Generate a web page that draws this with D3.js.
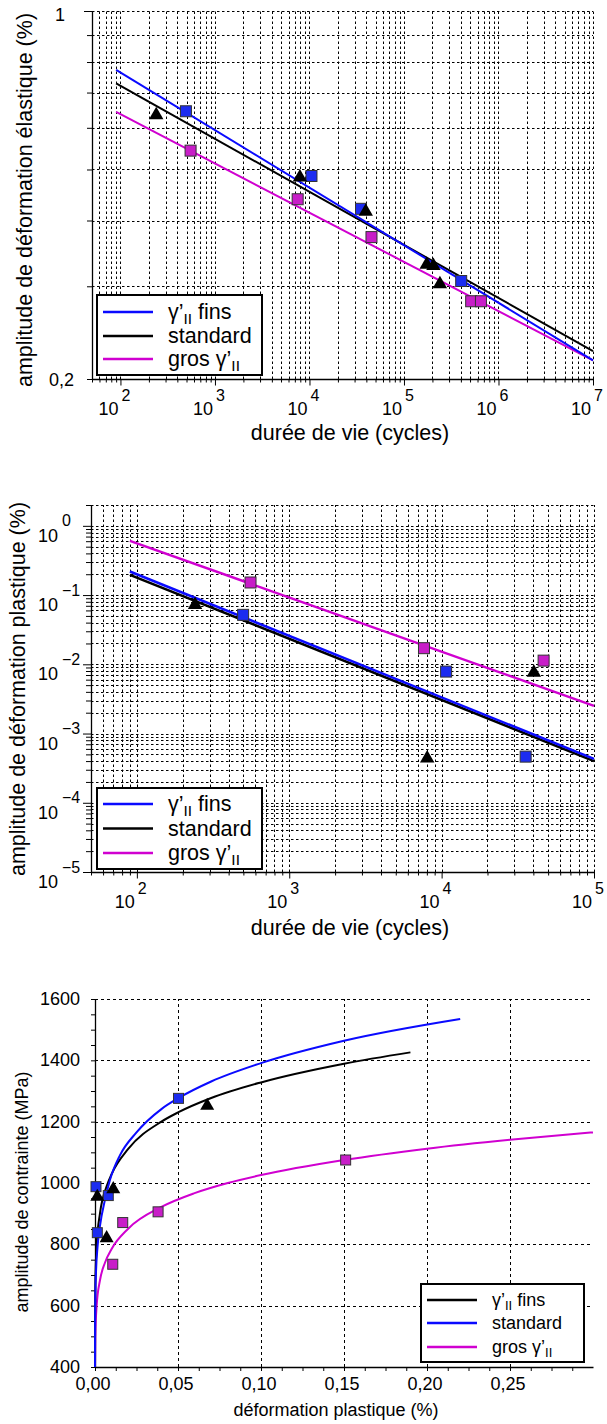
<!DOCTYPE html>
<html><head><meta charset="utf-8">
<script src="https://cdn.jsdelivr.net/npm/d3@7"></script>
<style>
body{margin:0;background:#fff;}
svg{display:block;font-family:"Liberation Sans",Arial,sans-serif;}
</style></head><body>
<svg id="c" width="607" height="1424"></svg>
<script>
// ---------- Chart 1 : elastic strain amplitude vs life ----------
const e1FinsN = [493, 10500, 35100, 403000];
const e1FinsE = [0.645, 0.486, 0.421, 0.307];
const e1StdN  = [239, 7920, 39400, 174000, 205000, 240000];
const e1StdE  = [0.634, 0.483, 0.416, 0.330, 0.328, 0.303];
const e1GrosN = [552, 7500, 45300, 514000, 652000];
const e1GrosE = [0.543, 0.439, 0.372, 0.281, 0.281];
const e1FitN    = [90, 1e7];
const e1FitFins = [0.773, 0.217];
const e1FitStd  = [0.729, 0.226];
const e1FitGros = [0.643, 0.217];
const e1XExp = [2, 3, 4, 5, 6, 7];
const e1YLabels = [[1, "1"], [0.2, "0,2"]];

// ---------- Chart 2 : plastic strain amplitude vs life ----------
const p2FinsN = [498, 10700, 35600];
const p2FinsE = [0.0518, 0.00785, 0.000464];
const p2StdN  = [241, 8040, 40300];
const p2StdE  = [0.0722, 0.00044, 0.0076];
const p2GrosN = [557, 7660, 46700];
const p2GrosE = [0.152, 0.0171, 0.0113];
const p2FitN    = [90, 1e5];
const p2FitFins = [0.219, 0.00043];
const p2FitStd  = [0.196, 0.00040];
const p2FitGros = [0.607, 0.00251];
const p2XExp = [2, 3, 4, 5];
const p2YExp = [0, -1, -2, -3, -4, -5];

// ---------- Chart 3 : cyclic stress-strain ----------
const c3BlueX  = [0.0006, 0.008, 0.0014, 0.0503];
const c3BlueY  = [988, 959, 838, 1276];
const c3BlackX = [0.0014, 0.011, 0.007, 0.0676];
const c3BlackY = [955, 980, 820, 1252];
const c3MagX   = [0.0107, 0.0167, 0.038, 0.151];
const c3MagY   = [735, 871, 906, 1075];
const c3CurveBlueX  = [0.000005, 0.00005, 0.0002, 0.0006, 0.0015, 0.003, 0.006, 0.009, 0.015, 0.025, 0.04, 0.05, 0.07, 0.10, 0.15, 0.22];
const c3CurveBlueY  = [400, 540, 630, 710, 790, 860, 945, 1010, 1090, 1165, 1241, 1276, 1331, 1391, 1464, 1535];
const c3CurveBlackX = [0.000002, 0.00003, 0.0002, 0.001, 0.003, 0.007, 0.01, 0.02, 0.04, 0.05, 0.07, 0.10, 0.15, 0.19];
const c3CurveBlackY = [401, 541, 668, 798, 901, 989, 1029, 1111, 1200, 1230, 1277, 1328, 1389, 1426];
const c3CurveMagX   = [0.00003, 0.0002, 0.001, 0.003, 0.006, 0.01, 0.02, 0.04, 0.06, 0.08, 0.10, 0.15, 0.20, 0.25, 0.30];
const c3CurveMagY   = [400, 499, 601, 683, 740, 785, 851, 922, 967, 1000, 1026, 1075, 1112, 1141, 1165];
const c3XTicks = [0, 0.05, 0.10, 0.15, 0.20, 0.25];
const c3YTicks = [400, 600, 800, 1000, 1200, 1400, 1600];

const BLUE = "#0a0aff", MAG = "#d000d0", BLK = "#000";
const SQ_BLUE = "#1c2cf0", SQ_MAG = "#c81ec8";

const svg = d3.select("#c");

function drawSquares(g, xs, ys, x, y, fill, sz) {
  g.selectAll(null).data(d3.zip(xs, ys)).join("rect")
    .attr("x", d => x(d[0]) - sz/2).attr("y", d => y(d[1]) - sz/2)
    .attr("width", sz).attr("height", sz)
    .attr("fill", fill).attr("stroke", "#333").attr("stroke-width", 1);
}
function drawTris(g, xs, ys, x, y, size) {
  g.selectAll(null).data(d3.zip(xs, ys)).join("path")
    .attr("transform", d => `translate(${x(d[0])},${y(d[1])})`)
    .attr("d", d3.symbol(d3.symbolTriangle, size)())
    .attr("fill", "#000");
}
function drawLine(g, xs, ys, x, y, color, w, curve) {
  const ln = d3.line().x(d => x(d[0])).y(d => y(d[1]));
  if (curve) ln.curve(curve);
  g.append("path").datum(d3.zip(xs, ys)).attr("d", ln)
    .attr("fill", "none").attr("stroke", color).attr("stroke-width", w);
}
function gammaText(t, fs, before, after) {
  if (before) t.append("tspan").text(before);
  t.append("tspan").text("γ’");
  t.append("tspan").attr("dy", fs*0.28).attr("font-size", fs*0.72).text("II");
  t.append("tspan").attr("dy", -fs*0.28).text(after || "");
}
function legend(box, lx, tx, rows, items, fs) {
  const g = svg.append("g");
  g.append("rect").attr("x", box[0]).attr("y", box[1]).attr("width", box[2]-box[0]).attr("height", box[3]-box[1])
    .attr("fill", "#fff").attr("stroke", "#000").attr("stroke-width", 2);
  items.forEach((it, i) => {
    g.append("line").attr("x1", lx[0]).attr("x2", lx[1]).attr("y1", rows[i]).attr("y2", rows[i])
      .attr("stroke", it.color).attr("stroke-width", 2.5);
    const t = g.append("text").attr("x", tx).attr("y", rows[i]).attr("dominant-baseline", "central")
      .attr("font-size", fs).attr("fill", "#000");
    if (it.gamma === "pre") gammaText(t, fs, "", " fins");
    else if (it.gamma === "post") gammaText(t, fs, "gros ", "");
    else t.text(it.label);
  });
}

// ---------------- log-log chart helper ----------------
function logChart(o) {
  const x = d3.scaleLog().domain(o.xd).range(o.xr);
  const y = d3.scaleLog().domain(o.yd).range(o.yr);
  const g = svg.append("g");
  const isDec = v => Math.abs(Math.log10(v) - Math.round(Math.log10(v))) < 1e-9;
  const xt = x.ticks(), yt = y.ticks();
  // grid
  g.append("g").selectAll("line").data(xt.filter(v => x(v) > o.xr[0] + 0.5)).join("line")
    .attr("x1", d => Math.round(x(d)) + 0.5).attr("x2", d => Math.round(x(d)) + 0.5).attr("y1", o.yr[0]).attr("y2", o.yr[1])
    .attr("stroke", "#000").attr("stroke-width", 1).attr("stroke-dasharray", "2.5,2.5");
  g.append("g").selectAll("line").data(yt.filter(v => y(v) < o.yr[0] - 0.5)).join("line")
    .attr("x1", o.xr[0]).attr("x2", o.xr[1]).attr("y1", d => Math.round(y(d)) + 0.5).attr("y2", d => Math.round(y(d)) + 0.5)
    .attr("stroke", "#000").attr("stroke-width", 1).attr("stroke-dasharray", "2.5,2.5");
  // axes
  const ax = g.append("g").attr("transform", `translate(0,${o.yr[0]})`)
    .call(d3.axisBottom(x).tickValues(xt).tickSizeOuter(0).tickSizeInner(3.5).tickFormat(""));
  ax.selectAll(".tick line").filter(d => isDec(d)).attr("y2", 6.5);
  const ay = g.append("g").attr("transform", `translate(${o.xr[0]},0)`)
    .call(d3.axisLeft(y).tickValues(yt).tickSizeOuter(0).tickSizeInner(5).tickFormat(""));
  ay.selectAll(".tick line").filter(d => isDec(d)).attr("x2", -8);
  g.selectAll(".domain").attr("stroke", "#000").attr("stroke-width", 1.3);
  // x labels 10^n
  o.xExp.forEach(e => {
    const px = x(Math.pow(10, e));
    g.append("text").attr("x", px - 12).attr("y", o.yr[0] + 30).attr("text-anchor", "middle")
      .attr("dominant-baseline", "central").attr("font-size", 18).text("10");
    g.append("text").attr("x", px + 1).attr("y", o.yr[0] + 16).attr("text-anchor", "start")
      .attr("dominant-baseline", "central").attr("font-size", 16).text(String(e));
  });
  // titles
  g.append("text").attr("x", o.xt[0]).attr("y", o.xt[1]).attr("text-anchor", "middle")
    .attr("dominant-baseline", "central").attr("font-size", 21.5).text(o.xTitle);
  g.append("text").attr("transform", `translate(${o.yt[0]},${o.yt[1]}) rotate(-90)`).attr("text-anchor", "middle")
    .attr("dominant-baseline", "central").attr("font-size", 21.5).text(o.yTitle);
  return {x, y, g};
}

// ================= Chart 1 =================
{
  const c = logChart({xd: [50, 1e7], xr: [92, 593], yd: [0.2, 1], yr: [379, 11], xExp: e1XExp,
    xt: [350, 433], yt: [25, 200], xTitle: "durée de vie (cycles)", yTitle: "amplitude de déformation élastique (%)"});
  e1YLabels.forEach(([v, s]) => {
    c.g.append("text").attr("x", v === 1 ? 65 : 74).attr("y", c.y(v) + (v === 1 ? 4 : 1)).attr("text-anchor", "end")
      .attr("dominant-baseline", "central").attr("font-size", 18).text(s);
  });
  drawLine(c.g, e1FitN, e1FitGros, c.x, c.y, MAG, 2);
  drawLine(c.g, e1FitN, e1FitStd, c.x, c.y, BLK, 2);
  drawLine(c.g, e1FitN, e1FitFins, c.x, c.y, BLUE, 2);
  drawSquares(c.g, e1FinsN, e1FinsE, c.x, c.y, SQ_BLUE, 11);
  drawSquares(c.g, e1GrosN, e1GrosE, c.x, c.y, SQ_MAG, 11);
  drawTris(c.g, e1StdN, e1StdE, c.x, c.y, 90);
  legend([97, 295, 262, 375], [103, 153], 168, [312, 336, 359],
    [{color: BLUE, gamma: "pre"}, {color: BLK, label: "standard"}, {color: MAG, gamma: "post"}], 21.5);
}

// ================= Chart 2 =================
{
  const c = logChart({xd: [50, 1e5], xr: [91, 594], yd: [1e-5, 2], yr: [872, 505], xExp: p2XExp,
    xt: [350, 928], yt: [18, 689], xTitle: "durée de vie (cycles)", yTitle: "amplitude de déformation plastique (%)"});
  p2YExp.forEach(e => {
    const py = c.y(Math.pow(10, e));
    c.g.append("text").attr("x", 48).attr("y", py + 10).attr("text-anchor", "middle")
      .attr("dominant-baseline", "central").attr("font-size", 18).text("10");
    c.g.append("text").attr("x", 62).attr("y", py - 5).attr("text-anchor", "start")
      .attr("dominant-baseline", "central").attr("font-size", 16).text(e === 0 ? "0" : "−" + (-e));
  });
  drawLine(c.g, p2FitN, p2FitGros, c.x, c.y, MAG, 2.5);
  drawLine(c.g, p2FitN, p2FitStd, c.x, c.y, BLK, 2.5);
  drawLine(c.g, p2FitN, p2FitFins, c.x, c.y, BLUE, 2.5);
  drawSquares(c.g, p2FinsN, p2FinsE, c.x, c.y, SQ_BLUE, 11);
  drawSquares(c.g, p2GrosN, p2GrosE, c.x, c.y, SQ_MAG, 11);
  drawTris(c.g, p2StdN, p2StdE, c.x, c.y, 90);
  legend([97, 788, 262, 869], [103, 153], 168, [804, 828.5, 853],
    [{color: BLUE, gamma: "pre"}, {color: BLK, label: "standard"}, {color: MAG, gamma: "post"}], 21.5);
}

// ================= Chart 3 =================
{
  const x = d3.scaleLinear().domain([0, 0.3]).range([95, 593]);
  const y = d3.scaleLinear().domain([400, 1600]).range([1367, 999]);
  const g = svg.append("g");
  g.append("g").selectAll("line").data(c3XTicks.filter(v => v > 0)).join("line")
    .attr("x1", d => Math.round(x(d)) + 0.5).attr("x2", d => Math.round(x(d)) + 0.5).attr("y1", y(400)).attr("y2", y(1600))
    .attr("stroke", "#000").attr("stroke-width", 1).attr("stroke-dasharray", "3,3");
  g.append("g").selectAll("line").data(c3YTicks.filter(v => v > 400)).join("line")
    .attr("x1", x(0)).attr("x2", x(0.3)).attr("y1", d => Math.round(y(d)) + 0.5).attr("y2", d => Math.round(y(d)) + 0.5)
    .attr("stroke", "#000").attr("stroke-width", 1).attr("stroke-dasharray", "3,3");
  g.append("g").attr("transform", `translate(0,${y(400)})`)
    .call(d3.axisBottom(x).tickValues(d3.range(0, 0.3, 0.0125)).tickSizeOuter(0).tickSizeInner(4).tickFormat(""));
  g.append("g").attr("transform", `translate(${x(0)},0)`)
    .call(d3.axisLeft(y).tickValues(d3.range(400, 1601, 50)).tickSizeOuter(0).tickSizeInner(4).tickFormat(""));
  g.selectAll(".domain").attr("stroke", "#000").attr("stroke-width", 1.3);
  c3XTicks.forEach(v => g.append("text").attr("x", x(v) - 2).attr("y", 1384).attr("text-anchor", "middle")
    .attr("dominant-baseline", "central").attr("font-size", 18).text(v.toFixed(2).replace(".", ",")));
  c3YTicks.forEach(v => g.append("text").attr("x", 80).attr("y", y(v)).attr("text-anchor", "end")
    .attr("dominant-baseline", "central").attr("font-size", 18).text(String(v)));
  g.append("text").attr("x", 336).attr("y", 1410).attr("text-anchor", "middle")
    .attr("dominant-baseline", "central").attr("font-size", 18).text("déformation plastique (%)");
  g.append("text").attr("transform", "translate(21.5,1192) rotate(-90)").attr("text-anchor", "middle")
    .attr("dominant-baseline", "central").attr("font-size", 18).text("amplitude de contrainte (MPa)");
  drawLine(g, c3CurveMagX, c3CurveMagY, x, y, MAG, 2, d3.curveMonotoneX);
  drawLine(g, c3CurveBlackX, c3CurveBlackY, x, y, BLK, 2, d3.curveMonotoneX);
  drawLine(g, c3CurveBlueX, c3CurveBlueY, x, y, BLUE, 2, d3.curveMonotoneX);
  drawSquares(g, c3BlueX, c3BlueY, x, y, SQ_BLUE, 10);
  drawSquares(g, c3MagX, c3MagY, x, y, SQ_MAG, 10);
  drawTris(g, c3BlackX, c3BlackY, x, y, 85);
  legend([421, 1284, 584, 1362], [427, 477], 492, [1300, 1323, 1347],
    [{color: BLK, gamma: "pre"}, {color: BLUE, label: "standard"}, {color: MAG, gamma: "post"}], 18);
}
</script></body></html>
